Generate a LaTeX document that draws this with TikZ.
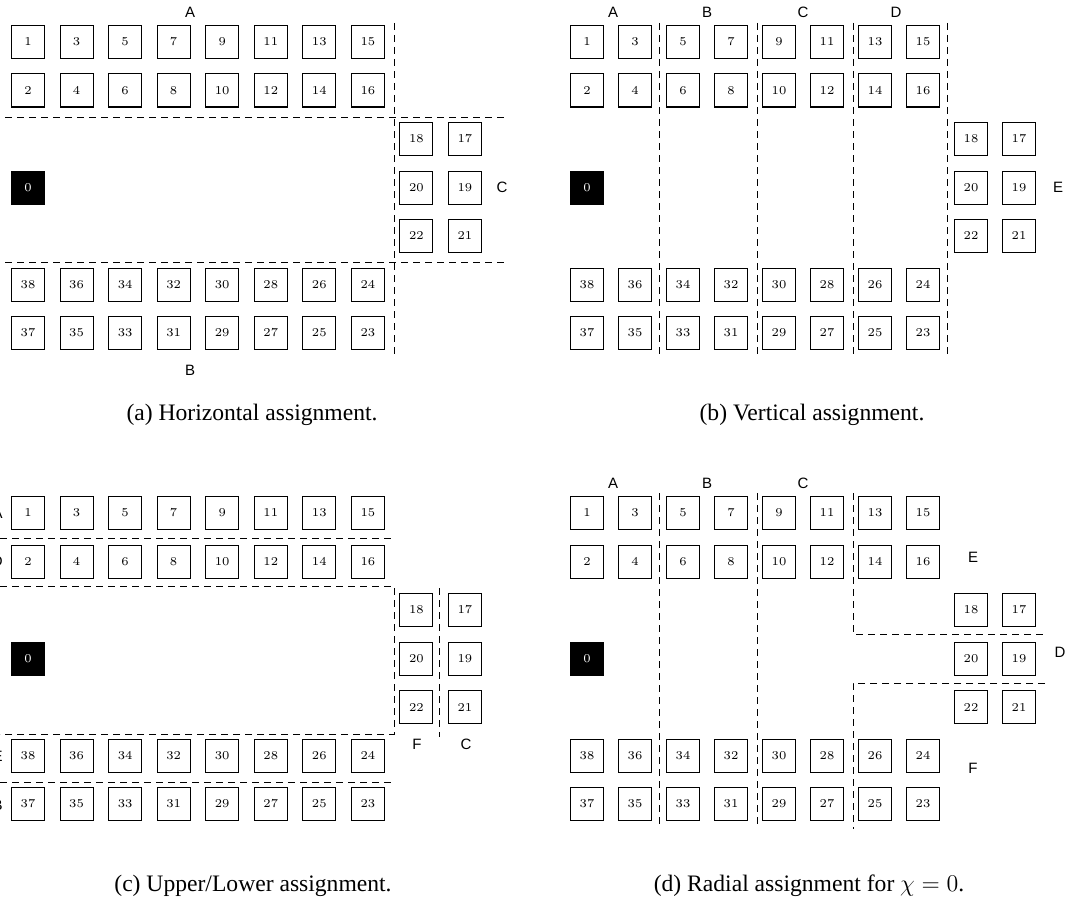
\documentclass[tikz,border=0pt]{standalone}
\usepackage{fontspec}
\newfontfamily\capfont{Liberation Serif}
\newfontfamily\labfont{Liberation Sans}
\tikzset{
  cell/.style={draw, line width=0.5pt, minimum size=16.5pt, inner sep=0pt, font=\fontsize{6}{7}\selectfont},
  blackcell/.style={cell, fill=black, text=white},
  part/.style={dashed, dash pattern=on 3.5pt off 2.5pt, line width=0.5pt},
  lab/.style={font=\labfont\fontsize{7.5}{9}\selectfont, inner sep=0pt},
  captext/.style={font=\capfont\fontsize{11.8}{14}\selectfont, inner sep=0pt, anchor=base}
}
\newcommand\drawpanel[4]{% prefix, x0, y0, dx
  \foreach \i in {0,...,7}{
    \pgfmathtruncatemacro\na{2*\i+1}
    \pgfmathtruncatemacro\nb{2*\i+2}
    \pgfmathtruncatemacro\nc{38-2*\i}
    \pgfmathtruncatemacro\nd{37-2*\i}
    \node[cell] (#1\na) at ({#2+#4*\i},{#3}) {\na};
    \node[cell] (#1\nb) at ({#2+#4*\i},{#3+48.5}) {\nb};
    \node[cell] (#1\nc) at ({#2+#4*\i},{#3+5*48.5}) {\nc};
    \node[cell] (#1\nd) at ({#2+#4*\i},{#3+6*48.5}) {\nd};
  }
  \foreach \j in {2,3,4}{
    \pgfmathtruncatemacro\ne{18+2*(\j-2)}
    \pgfmathtruncatemacro\nf{17+2*(\j-2)}
    \node[cell] (#1\ne) at ({#2+#4*8},{#3+48.5*\j}) {\ne};
    \node[cell] (#1\nf) at ({#2+#4*9},{#3+48.5*\j}) {\nf};
  }
  \node[blackcell] (#10) at ({#2},{#3+3*48.5}) {0};
}
\begin{document}
\begin{tikzpicture}[x=0.5pt,y=-0.5pt]
\useasboundingbox (0,0) rectangle (1069,899);

% ---------- (a) ----------
\drawpanel{a}{28}{42}{48.55}
\draw[part] (394,23) -- (394,355);
\draw[part] (5,117) -- (508,117);
\draw[part] (5,262) -- (508,262);
\node[lab] (aA) at (190,12) {A};
\node[lab] (aB) at (190,370) {B};
\node[lab] (aC) at (502,187) {C};
\node[captext] (capa) at (252,420) {(a) Horizontal assignment.};

% ---------- (b) ----------
\drawpanel{b}{587}{42}{48}
\foreach \x in {659,757,853,947}{
  \draw[part] (\x,23) -- (\x,355);
}
\node[lab] (bA) at (613,12) {A};
\node[lab] (bB) at (707,12) {B};
\node[lab] (bC) at (803,12) {C};
\node[lab] (bD) at (896,12) {D};
\node[lab] (bE) at (1058,187) {E};
\node[captext] (capb) at (812,420) {(b) Vertical assignment.};

% ---------- (c) ----------
\drawpanel{c}{28}{513}{48.55}
\draw[part] (0,538) -- (393,538);
\draw[part] (0,586) -- (394,586) -- (394,734) -- (0,734);
\draw[part] (0,782) -- (393,782);
\draw[part] (439,588) -- (439,737);
\node[lab, anchor=east] (cA) at (3,513) {A};
\node[lab, anchor=east] (cD) at (3,561) {D};
\node[lab, anchor=east] (cE) at (3,756) {E};
\node[lab, anchor=east] (cB) at (3,805) {B};
\node[lab] (cF) at (417,744) {F};
\node[lab] (cC) at (466,744) {C};
\node[captext] (capc) at (253,891) {(c) Upper/Lower assignment.};

% ---------- (d) ----------
\drawpanel{d}{587}{513}{48}
\draw[part] (659,493) -- (659,826);
\draw[part] (757,493) -- (757,826);
\draw[part] (853,493) -- (853,634) -- (1045,634);
\draw[part] (1045,683) -- (853,683) -- (853,829);
\node[lab] (dA) at (613,483) {A};
\node[lab] (dB) at (707,483) {B};
\node[lab] (dC) at (803,483) {C};
\node[lab] (dE) at (973,557) {E};
\node[lab] (dD) at (1060,652) {D};
\node[lab] (dF) at (973,768) {F};
\node[captext] (capd) at (809,891) {(d) Radial assignment for $\chi = 0$.};
\end{tikzpicture}
\end{document}
